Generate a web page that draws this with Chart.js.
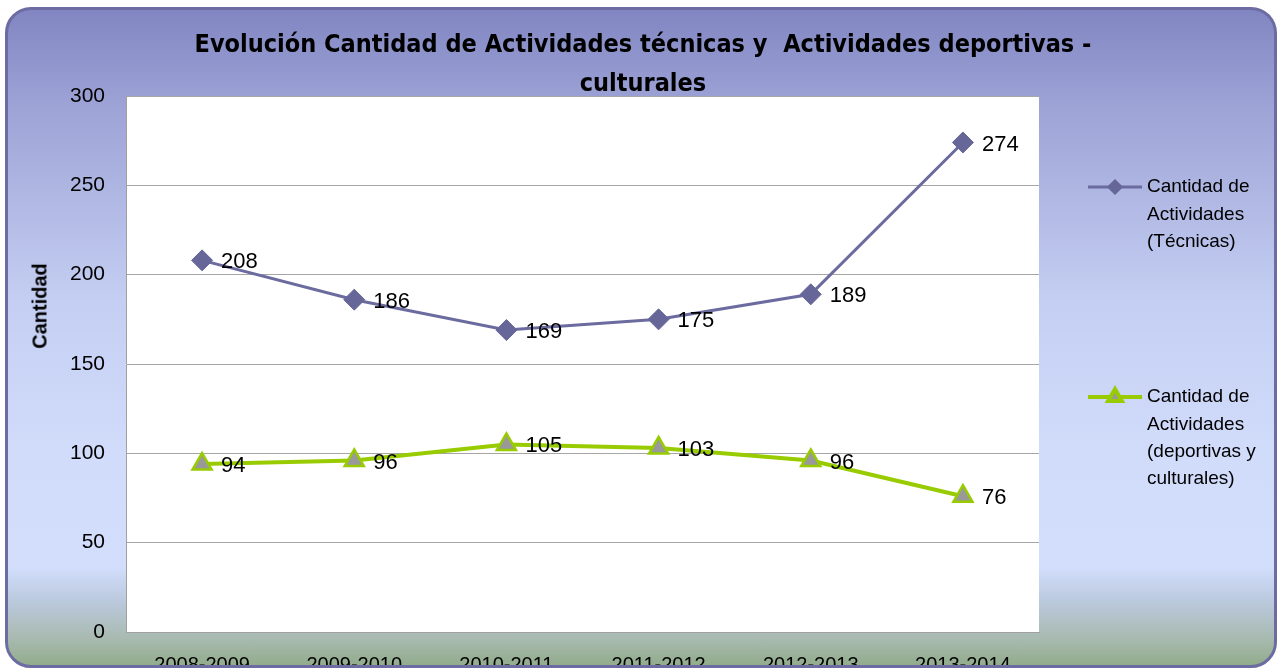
<!DOCTYPE html>
<html>
<head>
<meta charset="utf-8">
<script src="https://cdn.jsdelivr.net/npm/chart.js@4/dist/chart.umd.min.js"></script>
<style>
  html, body { margin: 0; padding: 0; background: #fff; }
  #wrap { position: relative; width: 1280px; height: 669px; overflow: hidden; }
  #bg {
    position: absolute; left: 5px; top: 7px; width: 1272px; height: 661px;
    box-sizing: border-box; border: 3px solid #6C6CA2; border-radius: 26px;
    background: linear-gradient(to bottom, #8186C2 0%, #9CA2D5 14%, #C4CEF2 44%, #D1DCFB 67%, #D2DEFC 85%, #BAC8DC 90.5%, #A8BAB0 96%, #92AC8C 100%);
  }
  #plotBox { position: absolute; left: 0; top: 0; width: 1280px; height: 665px; overflow: hidden; }
  #title {
    position: absolute; left: 0; top: 24px; width: 1286px; text-align: center;
    font: bold 25px "DejaVu Sans Condensed", "Liberation Sans Narrow", sans-serif;
    line-height: 39px; color: #000;
  }
  #yTitle {
    position: absolute; left: 40px; top: 306px; white-space: nowrap;
    transform: translate(-50%, -50%) rotate(-90deg);
    font: bold 20px "Liberation Sans", Arial, sans-serif; color: #000;
  }
</style>
</head>
<body>
<div id="wrap">
  <div id="bg"></div>
  <div id="plotBox"><canvas id="chart" width="1280" height="669"></canvas></div>
  <div id="title">Evolución Cantidad de Actividades técnicas y &nbsp;Actividades deportivas -<br>culturales</div>
  <div id="yTitle">Cantidad</div>
</div>
<script>
  // Data
  const periods = ["2008-2009", "2009-2010", "2010-2011", "2011-2012", "2012-2013", "2013-2014"];
  const tecnicas = [208, 186, 169, 175, 189, 274];
  const deportivas = [94, 96, 105, 103, 96, 76];
  const legendTecnicas = ["Cantidad de", "Actividades", "(Técnicas)"];
  const legendDeportivas = ["Cantidad de", "Actividades", "(deportivas y", "culturales)"];
  const yTicks = [0, 50, 100, 150, 200, 250, 300];

  // white plot area behind the lines
  const plotBackground = {
    id: "plotBackground",
    beforeDraw(chart) {
      const { ctx, chartArea } = chart;
      ctx.save();
      ctx.fillStyle = "#fff";
      ctx.fillRect(chartArea.left, chartArea.top, chartArea.right - chartArea.left, chartArea.bottom - chartArea.top);
      ctx.restore();
    }
  };

  // value labels to the right of each point
  const valueLabels = {
    id: "valueLabels",
    afterDatasetsDraw(chart) {
      const ctx = chart.ctx;
      ctx.save();
      ctx.font = "22px 'Liberation Sans', Arial, sans-serif";
      ctx.fillStyle = "#000";
      ctx.textBaseline = "middle";
      ctx.textAlign = "left";
      chart.data.datasets.forEach((ds, i) => {
        chart.getDatasetMeta(i).data.forEach((pt, j) => {
          ctx.fillText(String(ds.data[j]), pt.x + 19, pt.y + 2);
        });
      });
      ctx.restore();
    }
  };

  // legend on the right, with wrapped labels
  const sideLegend = {
    id: "sideLegend",
    afterDraw(chart) {
      const ctx = chart.ctx;
      const items = [
        { ds: chart.data.datasets[0], lines: legendTecnicas, y: 187, radius: 6 },
        { ds: chart.data.datasets[1], lines: legendDeportivas, y: 397, radius: 8 }
      ];
      ctx.save();
      items.forEach(it => {
        ctx.strokeStyle = it.ds.borderColor;
        ctx.lineWidth = it.ds.borderWidth;
        ctx.beginPath();
        ctx.moveTo(1088, it.y);
        ctx.lineTo(1142, it.y);
        ctx.stroke();
        ctx.fillStyle = it.ds.pointBackgroundColor;
        ctx.strokeStyle = it.ds.pointBorderColor;
        Chart.helpers.drawPoint(ctx, {
          pointStyle: it.ds.pointStyle, radius: it.radius, rotation: 0,
          borderWidth: it.ds.pointBorderWidth
        }, 1115, it.y);
        ctx.fillStyle = "#000";
        ctx.font = "19px 'Liberation Sans', Arial, sans-serif";
        ctx.textBaseline = "middle";
        ctx.textAlign = "left";
        it.lines.forEach((t, k) => ctx.fillText(t, 1147, it.y + k * 27.3));
      });
      ctx.restore();
    }
  };

  new Chart(document.getElementById("chart"), {
    type: "line",
    data: {
      labels: periods,
      datasets: [
        {
          label: "Cantidad de Actividades (Técnicas)",
          data: tecnicas,
          borderColor: "#6B6B9F",
          borderWidth: 3,
          pointStyle: "rectRot",
          pointRadius: 10.5,
          pointHoverRadius: 10.5,
          pointBackgroundColor: "#666699",
          pointBorderColor: "#666699",
          pointBorderWidth: 1,
          tension: 0
        },
        {
          label: "Cantidad de Actividades (deportivas y culturales)",
          data: deportivas,
          borderColor: "#99CC00",
          borderWidth: 4,
          pointStyle: "triangle",
          pointRadius: 11,
          pointHoverRadius: 11,
          pointBackgroundColor: "#999999",
          pointBorderColor: "#99CC00",
          pointBorderWidth: 2.5,
          tension: 0
        }
      ]
    },
    options: {
      responsive: false,
      devicePixelRatio: 1,
      animation: false,
      layout: { padding: { top: 96, right: 241, left: 0, bottom: 0 } },
      plugins: {
        legend: { display: false },
        title: { display: false },
        tooltip: { enabled: false }
      },
      scales: {
        x: {
          offset: true,
          grid: { display: false, drawTicks: false },
          border: { display: true, color: "#A0A0A0", width: 1 },
          ticks: { color: "#000", padding: 21, font: { size: 20, family: "'Liberation Sans', Arial, sans-serif" }, maxRotation: 0 },
          afterFit(scale) { scale.height = 37; }
        },
        y: {
          min: yTicks[0],
          max: yTicks[yTicks.length - 1],
          grid: { color: "#A6A6A6", lineWidth: 1, drawTicks: false },
          border: { display: true, color: "#A0A0A0", width: 1 },
          afterBuildTicks(scale) { scale.ticks = yTicks.map(v => ({ value: v })); },
          ticks: { color: "#000", padding: 21, font: { size: 21, family: "'Liberation Sans', Arial, sans-serif" } },
          afterFit(scale) { scale.width = 126; }
        }
      }
    },
    plugins: [plotBackground, valueLabels, sideLegend]
  });
</script>
</body>
</html>
